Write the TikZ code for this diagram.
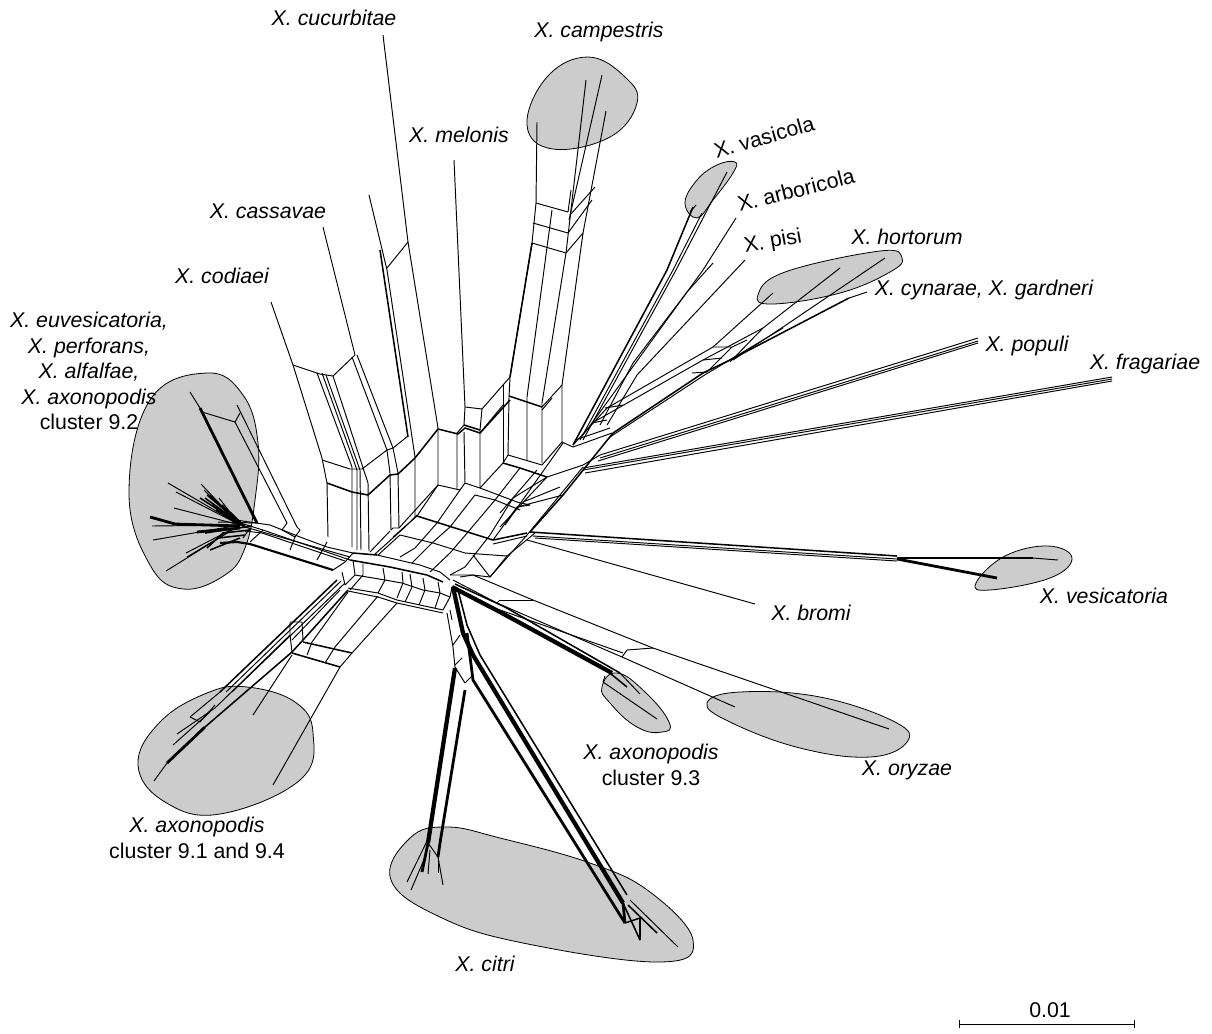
\documentclass[tikz,border=0pt]{standalone}
\usepackage{fontspec}
\setmainfont{Liberation Sans}
\usepackage{xcolor}
\usepackage{tikz}
\usetikzlibrary{arrows.meta,positioning}
\definecolor{blobgray}{HTML}{CCCCCC}
\begin{document}
\begin{tikzpicture}[
    x=0.75pt, y=-0.75pt,
    line join=round,
    net/.style={line width=0.72pt, black},
    heavy/.style={line width=1.15pt, black},
    bundle/.style={line width=2.1pt, black},
    trunk/.style={line width=3.2pt, black},
    blob/.style={draw=black, line width=0.6pt, fill=blobgray},
    species/.style={font=\fontsize{16}{19.2}\selectfont\itshape, inner sep=0pt, align=center},
    plain/.style={font=\fontsize{16}{19.2}\selectfont, inner sep=0pt, align=center}
]
    \useasboundingbox (0,0) rectangle (1212,1033);

    \draw[blob] plot[smooth cycle, tension=0.7] coordinates {(207,373) (243,395) (258,443) (255,500) (245,548) (225,575) (183,589) (150,565) (129,493) (150,400)};
    \draw[blob] plot[smooth cycle, tension=0.7] coordinates {(247,687) (295,702) (313,733) (300,780) (220,814) (165,802) (138,765) (160,722) (207,693)};
    \draw[blob] plot[smooth cycle, tension=0.7] coordinates {(447,827) (500,838) (590,863) (650,892) (693,940) (660,962) (523,943) (440,917) (391,880) (410,838)};
    \draw[blob] plot[smooth cycle, tension=0.8] coordinates {(617,673) (645,692) (669,722) (662,732) (637,727) (610,703) (602,687)};
    \draw[blob] plot[smooth cycle, tension=0.7] coordinates {(707,703) (740,692) (820,697) (895,722) (907,742) (870,757) (800,748) (730,722)};
    \draw[blob] plot[smooth cycle, tension=0.7] coordinates {(976,583) (1005,556) (1048,546) (1072,558) (1050,578) (990,590)};
    \draw[blob] plot[smooth cycle, tension=0.7] coordinates {(758,295) (785,272) (880,251) (902,258) (890,272) (840,293) (773,304)};
    \draw[blob] plot[smooth cycle, tension=0.7] coordinates {(685,203) (697,180) (717,165) (735,162) (733,173) (713,200) (697,218)};
    \draw[blob] plot[smooth cycle, tension=0.7] coordinates {(527,125) (547,77) (588,57) (625,77) (637,103) (610,137) (553,149)};

    % left tuft
    \foreach \tx/\ty in {168/483,176/492,201/484,219/498,174/508,152/526,153/540,166/571,186/553,187/557,204/490,210/495}
        \draw[net] (\tx,\ty) -- (240,525);
    \foreach \tx/\ty in {200/498,205/498,212/505,216/510,222/505,207/495,214/500,226/510,230/512}
        \draw[heavy] (\tx,\ty) -- (245,527);
    \draw[bundle] (150,517) -- (175,524) -- (240,526);
    \draw[bundle] (197,532) -- (240,528);
    \draw[heavy] (205,533) -- (252,526);
    \draw[heavy] (207,548) -- (223,533) -- (250,530);
    \draw[heavy] (210,550) -- (225,544) -- (240,538);
    \draw[heavy] (218,538) -- (245,535);
    \draw[net] (218,522) -- (258,523);
    \draw[bundle] (200,408) -- (257,523);
    \draw[net] (190,392) -- (200,408);
    \draw[net] (202,412) -- (235,422) -- (287,523);
    \draw[net] (235,422) -- (240,413);
    \draw[net] (237,405) -- (297,527);

    % left band
    \draw[line width=1.6pt] (220,543) -- (237,542) -- (250,544) -- (333,570);
    \draw[net] (236,520) -- (270,525) -- (300,537) -- (327,547) -- (353,553);
    \draw[net] (240,523) -- (263,530) -- (350,560);
    \draw[net] (245,527) -- (350,557);
    \draw[net] (245,531) -- (262,533) -- (345,561);
    \draw[net] (250,542) -- (263,530);
    \draw[net] (243,538) -- (250,528);
    \draw[net] (290,550) -- (295,537);
    \draw[net] (317,560) -- (327,542);
    \draw[net] (287,523) -- (282,530) -- (295,537) -- (300,530) -- (297,527);

    % codiaei and cassavae
    \draw[net] (271,302) -- (293,365) -- (322,458) -- (327,483) -- (328,537);
    \draw[net] (293,365) -- (320,374) -- (333,376) -- (355,355) -- (323,227);
    \draw[net] (317,373) -- (352,467) -- (352,547);
    \draw[net] (322,373) -- (357,470) -- (357,550);
    \draw[net] (326,375) -- (360,470) -- (361,550);
    \draw[net] (333,376) -- (368,483) -- (369,551);
    \draw[net] (352,357) -- (387,450) -- (390,473) -- (391,530);
    \draw[net] (357,355) -- (393,448) -- (398,473) -- (399,528);
    \draw[net] (322,460) -- (350,469) -- (362,469) -- (387,450) -- (393,448) -- (408,436);
    \draw[heavy] (327,483) -- (352,492) -- (368,495) -- (390,475) -- (398,474) -- (415,458);
    \draw[heavy] (415,458) -- (438,429) -- (458,434) -- (465,428) -- (480,433) -- (510,400);

    % cucurbitae and neighbours
    \draw[net] (383,35) -- (408,242) -- (438,428) -- (438,485);
    \draw[net] (369,195) -- (387,270) -- (415,457) -- (415,517);
    \draw[heavy] (380,250) -- (408,437);
    \draw[net] (387,268) -- (408,242);
    \draw[net] (391,530) -- (393,528) -- (399,528) -- (438,485);
    \draw[net] (394,537) -- (405,527) -- (417,515);
    \draw[net] (370,552) -- (390,531);
    \draw[net] (375,554) -- (394,537);
    \draw[net] (378,555) -- (400,535);

    % melonis
    \draw[net] (454,160) -- (465,407) -- (464,425) -- (457,433) -- (457,490);
    \draw[net] (465,407) -- (482,409) -- (480,430) -- (480,488);
    \draw[heavy] (464,425) -- (480,430);
    \draw[net] (464,432) -- (465,483);
    \draw[net] (482,409) -- (510,377);
    \draw[net] (480,433) -- (503,405);

    % campestris
    \draw[net] (537,122) -- (536,203) -- (532,243) -- (510,377) -- (509,397) -- (508,455);
    \draw[heavy] (532,243) -- (510,377);
    \draw[net] (503,385) -- (503,463);
    \draw[net] (552,210) -- (527,397) -- (527,460);
    \draw[net] (586,80) -- (566,253) -- (542,403) -- (542,463);
    \draw[net] (602,75) -- (569,220);
    \draw[net] (606,111) -- (583,233) -- (562,385) -- (562,442) -- (573,447);
    \draw[net] (571,190) -- (568,212);
    \draw[net] (595,187) -- (570,215);
    \draw[net] (592,200) -- (568,233);
    \draw[net] (583,233) -- (566,253);
    \draw[net] (536,203) -- (568,212);
    \draw[net] (533,223) -- (568,233);
    \draw[net] (532,243) -- (566,253);
    \draw[heavy] (509,396) -- (542,407);
    \draw[net] (542,407) -- (562,385);
    \draw[net] (542,410) -- (552,398);
    \draw[heavy] (503,463) -- (520,468) -- (547,477);
    \draw[net] (508,455) -- (542,465) -- (562,442);

    % upper grid
    \draw[heavy] (417,516) -- (493,540);
    \draw[heavy] (493,540) -- (527,533);
    \draw[net] (493,544) -- (527,536);
    \draw[net] (438,485) -- (460,490) -- (465,483) -- (480,488) -- (517,502) -- (530,505);
    \draw[net] (475,495) -- (495,500) -- (520,510);
    \draw[net] (503,463) -- (480,488);
    \draw[net] (508,455) -- (503,463);
    \draw[net] (438,485) -- (417,516) -- (393,537);
    \draw[net] (460,490) -- (437,523) -- (415,548) -- (400,557);
    \draw[net] (475,495) -- (450,527) -- (432,543) -- (412,563);
    \draw[net] (495,500) -- (468,532) -- (450,553) -- (430,572);
    \draw[net] (520,468) -- (495,500);
    \draw[net] (547,477) -- (513,498) -- (490,535) -- (465,567) -- (450,575);
    \draw[net] (400,535) -- (433,543) -- (465,553) -- (507,556);
    \draw[net] (530,505) -- (517,507) -- (493,540);
    \draw[net] (517,507) -- (563,495);
    \draw[net] (523,502) -- (560,487);
    \draw[net] (473,555) -- (490,577);
    \draw[net] (450,575) -- (473,575) -- (490,577) -- (527,535) -- (583,467);
    \draw[net] (490,577) -- (507,556) -- (535,533);
    \draw[net] (547,477) -- (583,465) -- (600,455);
    \draw[net] (500,527) -- (547,477);
    \draw[net] (500,513) -- (537,470);
    \draw[net] (505,525) -- (563,443);
    \draw[heavy] (530,532) -- (563,495) -- (613,433);

    % central band
    \draw[net] (377,555) -- (420,565) -- (440,572) -- (450,580);
    \draw[heavy] (353,553) -- (377,555);
    \draw[heavy] (350,560) -- (390,567) -- (427,575) -- (443,582);
    \draw[net] (353,560) -- (355,575) -- (345,585);
    \draw[net] (355,575) -- (385,580) -- (402,583) -- (423,590) -- (440,593) -- (450,597);
    \draw[net] (348,588) -- (378,593) -- (397,600) -- (443,610);
    \draw[net] (348,591) -- (378,597) -- (397,603) -- (443,613);
    \draw[net] (363,563) -- (363,575) -- (350,590);
    \draw[net] (383,568) -- (385,580) -- (378,593);
    \draw[net] (402,572) -- (403,583) -- (397,598);
    \draw[net] (410,574) -- (412,587) -- (405,602);
    \draw[net] (423,578) -- (425,590) -- (419,605);
    \draw[net] (438,582) -- (440,593) -- (435,608);
    \draw[net] (443,610) -- (450,597) -- (452,587);
    \draw[net] (333,570) -- (345,562) -- (353,553);
    \draw[net] (345,585) -- (342,572);

    % oryzae and bromi
    \draw[net] (453,580) -- (497,603) -- (622,657) -- (735,707);
    \draw[net] (460,577) -- (473,575) -- (533,600) -- (653,648) -- (889,729);
    \draw[net] (500,600) -- (533,600);
    \draw[net] (497,603) -- (500,600);
    \draw[net] (500,610) -- (623,653);
    \draw[net] (622,657) -- (627,650) -- (653,648);
    \draw[net] (527,540) -- (755,604);

    % axonopodis 9.3
    \draw[trunk] (452,587) -- (500,612) -- (612,673);
    \draw[heavy] (455,584) -- (505,607) -- (620,673);
    \draw[heavy] (600,665) -- (627,687);
    \draw[net] (603,682) -- (657,719);
    \draw[net] (620,673) -- (640,694);
    \draw[net] (603,682) -- (605,676);

    % citri
    \draw[trunk] (453,587) -- (463,633) -- (473,655) -- (623,903);
    \draw[bundle] (623,903) -- (625,923);
    \draw[heavy] (458,590) -- (467,625) -- (480,655) -- (627,895);
    \draw[bundle] (467,633) -- (473,680) -- (625,923);
    \draw[heavy] (623,903) -- (640,940);
    \draw[heavy] (625,923) -- (640,918) -- (640,940);
    \draw[net] (630,900) -- (678,947);
    \draw[heavy] (628,905) -- (657,933);
    \draw[net] (447,613) -- (453,647) -- (455,667) -- (465,683) -- (473,675);
    \draw[net] (453,645) -- (460,635);
    \draw[net] (455,665) -- (462,658);
    \draw[net] (450,610) -- (452,620);
    \draw[trunk] (455,668) -- (428,843);
    \draw[bundle] (428,843) -- (422,872);
    \draw[bundle] (465,690) -- (440,843) -- (438,857);
    \draw[net] (428,843) -- (438,857) -- (443,885);
    \draw[net] (430,835) -- (407,882);
    \draw[net] (426,855) -- (411,890);
    \draw[net] (430,850) -- (428,874);
    \draw[net] (438,857) -- (438,873);

    % axonopodis 9.1 and 9.4
    \draw[heavy] (337,580) -- (220,692);
    \draw[net] (341,581) -- (226,692);
    \draw[net] (345,583) -- (232,692);
    \draw[net] (220,692) -- (190,717) -- (200,722) -- (215,705);
    \draw[heavy] (348,590) -- (303,640) -- (292,652) -- (205,727);
    \draw[bundle] (205,727) -- (167,763);
    \draw[net] (340,590) -- (292,640);
    \draw[net] (290,622) -- (302,622) -- (303,640);
    \draw[net] (290,622) -- (290,635) -- (292,652);
    \draw[net] (290,635) -- (215,708) -- (177,734);
    \draw[net] (210,712) -- (173,745);
    \draw[net] (167,763) -- (154,781);
    \draw[heavy] (292,653) -- (340,667);
    \draw[heavy] (303,642) -- (352,653);
    \draw[net] (348,592) -- (312,642) -- (307,655);
    \draw[net] (378,596) -- (335,647) -- (325,663);
    \draw[net] (397,603) -- (352,653) -- (340,667) -- (273,785);
    \draw[net] (292,655) -- (253,715);

    % vesicatoria
    \draw[heavy] (530,532) -- (897,556);
    \draw[net] (533,536) -- (897,559);
    \draw[net] (535,538) -- (897,561);
    \draw[bundle] (897,558) -- (1033,558);
    \draw[net] (1033,558) -- (1058,560);
    \draw[bundle] (897,559) -- (997,578);

    % populi and fragariae
    \draw[net] (600,455) -- (978,338);
    \draw[net] (600,458) -- (978,341);
    \draw[net] (598,461) -- (978,343);
    \draw[net] (583,468) -- (1112,377);
    \draw[net] (583,470) -- (1112,379);
    \draw[net] (585,473) -- (1112,381);

    % hortorum and cynarae
    \draw[net] (773,293) -- (713,347) -- (607,408) -- (573,445);
    \draw[net] (840,268) -- (763,328) -- (703,360) -- (592,423) -- (583,435);
    \draw[net] (885,258) -- (783,327) -- (733,360);
    \draw[heavy] (613,433) -- (703,373) -- (730,360) -- (849,298);
    \draw[net] (610,437) -- (703,376) -- (783,328);
    \draw[net] (849,298) -- (867,292);
    \draw[net] (713,347) -- (732,347) -- (707,372);
    \draw[net] (703,360) -- (722,358);
    \draw[net] (692,373) -- (707,372);
    \draw[net] (732,347) -- (747,340);
    \draw[net] (763,328) -- (730,362);
    \draw[net] (605,408) -- (623,405);
    \draw[net] (592,423) -- (607,420);
    \draw[net] (573,447) -- (612,433);
    \draw[net] (575,440) -- (610,428);

    % vasicola, arboricola and pisi
    \draw[heavy] (573,445) -- (667,270) -- (693,207);
    \draw[net] (690,212) -- (696,205);
    \draw[net] (580,440) -- (673,270) -- (702,213);
    \draw[net] (583,440) -- (676,270) -- (727,172);
    \draw[net] (592,423) -- (703,270) -- (736,218);
    \draw[net] (600,425) -- (633,363) -- (687,292) -- (713,263);
    \draw[net] (607,425) -- (637,375) -- (745,260);

    \node[species] (cucurbitae) at (334,18) {X. cucurbitae};
    \node[species] (campestris) at (599,32) {X. campestris};
    \node[species] (melonis) at (459,135) {X. melonis};
    \node[species] (cassavae) at (268,211) {X. cassavae};
    \node[species] (codiaei) at (222,276) {X. codiaei};
    \node[species] (euvesicatoria) at (89,371) {X. euvesicatoria,\\X. perforans,\\X. alfalfae,\\X. axonopodis\\\upshape cluster 9.2};
    \node[plain, rotate=16] (vasicola) at (764,137) {X. vasicola};
    \node[plain, rotate=14] (arboricola) at (796,190) {X. arboricola};
    \node[plain, rotate=10] (pisi) at (773,242) {X. pisi};
    \node[species] (hortorum) at (907,237) {X. hortorum};
    \node[species] (cynarae) at (984,290) {X. cynarae, X. gardneri};
    \node[species] (populi) at (1027,346) {X. populi};
    \node[species] (fragariae) at (1145,364) {X. fragariae};
    \node[species] (vesicatoria) at (1104,596) {X. vesicatoria};
    \node[species] (bromi) at (811,613) {X. bromi};
    \node[species] (oryzae) at (907,770) {X. oryzae};
    \node[species] (axon93) at (651,765) {X. axonopodis\\\upshape cluster 9.3};
    \node[species] (axon91) at (197,838) {X. axonopodis\\\upshape cluster 9.1 and 9.4};
    \node[species] (citri) at (485,964) {X. citri};

    \coordinate (barleft) at (959,1024);
    \coordinate (barright) at (1135,1024);
    \draw[net, {Bar[width=6pt]}-{Bar[width=6pt]}] (barleft) -- (barright);
    \node[plain] (barlabel) at (1050,1010) {0.01};
\end{tikzpicture}
\end{document}
